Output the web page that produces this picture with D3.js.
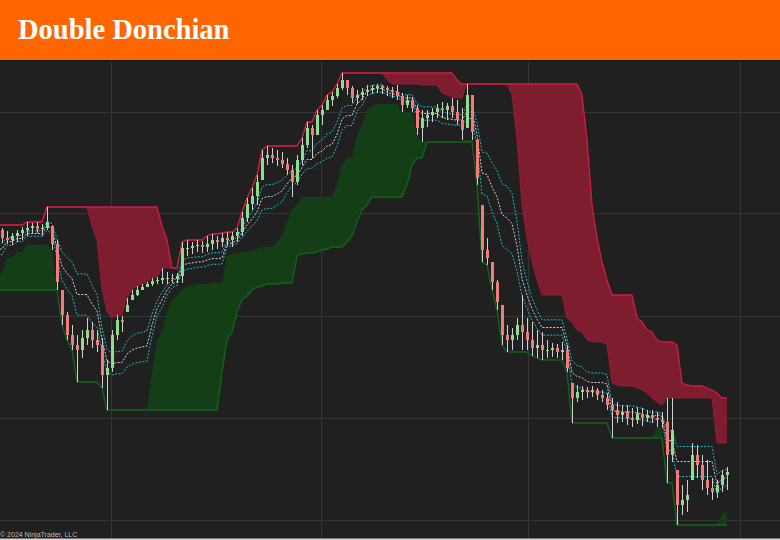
<!DOCTYPE html>
<html><head><meta charset="utf-8">
<script src="https://cdn.jsdelivr.net/npm/d3@7"></script>
<style>html,body{margin:0;padding:0;background:#202020;}svg{display:block}</style>
</head><body>
<svg id="c" width="780" height="540"></svg>
<script>
// ---- data (price units of the chart) ----
// warm-up bars before the visible window (they seed the channels)
const warmHigh  = [272,275,278,274,270,268,270,272,268,266,270,268,264,262,272,278,285,294,296,302,304,308,312,315];
const warmLow   = [255,258,260,256,252,251,253,255,251,251,254,252,251,250,256,268,267,284,282,290,288,296,298,300];
const warmClose = [265,270,272,262,258,255,260,264,256,260,265,256,257,258,268,275,278,290,292,298,300,304,308,310];
// visible bars
const highs = [312,309,307,310,313,318,317,318,316,333,
  314,300,250,228,215,205,210,222,218,210,
  202,180,210,225,224,242,250,254,256,258,
  262,263,272,268,266,267,298,300,298,300,
  299,304,306,304,307,308,308,312,328,342,
  352,365,390,394,392,390,388,382,375,385,
  402,418,415,430,435,445,448,456,467,460,
  454,450,452,455,455,456,455,454,453,455,
  447,445,443,435,430,430,432,436,438,437,
  442,440,432,456,445,400,335,302,278,260,
  235,215,212,222,245,222,218,210,208,200,
  197,196,198,195,157,155,154,153,154,152,
  150,147,142,138,135,135,132,133,132,130,
  130,128,128,142,142,70,55,60,97,95,
  85,80,62,60,70,73];
const lows = [297,296,295,298,300,304,306,307,304,310,
  290,250,215,200,190,158,182,195,192,188,
  152,130,168,200,208,228,240,244,250,253,
  254,256,256,256,257,257,257,284,286,288,
  287,288,290,291,293,294,293,298,304,318,
  330,335,360,375,377,374,372,365,343,355,
  375,392,382,405,415,430,434,442,450,445,
  437,436,440,444,446,447,446,444,442,440,
  428,432,428,405,398,413,418,422,422,420,
  422,415,400,412,400,355,278,275,250,230,
  195,188,190,200,190,190,184,182,180,182,
  183,182,180,168,117,138,140,142,143,140,
  138,130,102,117,118,115,113,116,114,118,
  117,113,112,57,78,15,25,28,60,62,
  50,45,40,42,48,50];
const closes = [302,300,304,307,310,312,314,311,312,318,
  296,258,225,205,195,190,202,210,200,195,
  165,172,205,220,218,235,245,250,253,256,
  259,260,262,262,261,264,292,292,294,295,
  293,296,300,298,302,300,304,308,322,336,
  344,358,382,385,382,380,376,370,358,380,
  395,412,405,425,430,440,444,452,460,452,
  442,445,448,450,452,454,452,450,448,444,
  435,440,432,412,422,425,428,432,430,434,
  428,420,410,445,408,362,290,282,258,238,
  205,200,205,215,208,200,192,195,190,190,
  192,188,190,172,142,148,150,148,150,145,
  142,135,130,125,128,122,120,126,122,125,
  122,120,118,85,110,35,40,45,85,75,
  60,52,48,55,65,68];
const priceGrid = [20, 121.7, 224, 326.7, 428.3];
const timeGrid = [21.74, 63.74, 105.26, 147.6];
const longPeriod = 23, shortPeriod = 9;
const levels = [0.618, 0.5, 0.382];

// ---- build bars ----
const H_ = warmHigh.concat(highs), L_ = warmLow.concat(lows), C_ = warmClose.concat(closes);
const n0 = warmHigh.length;
const bars = H_.map((h, k) => {
  const l = L_[k], c = C_[k];
  let o = k > 0 ? C_[k-1] : c;
  o = Math.max(l, Math.min(h, o));
  const lw = Math.max(0, k - longPeriod + 1), sw = Math.max(0, k - shortPeriod + 1);
  return {
    i: k - n0, h, l, c, o,
    hhL: d3.max(H_.slice(lw, k+1)), llL: d3.min(L_.slice(lw, k+1)),
    hhS: d3.max(H_.slice(sw, k+1)), llS: d3.min(L_.slice(sw, k+1))
  };
});

const W = 780, H = 540;
const svg = d3.select('#c');
svg.append('rect').attr('width', W).attr('height', H).attr('fill', '#202020');

const x = d3.scaleLinear().domain([0, 145]).range([2, 727]);
const y = d3.scaleLinear().domain([0, 480]).range([540, 60]);

svg.append('clipPath').attr('id', 'plot').append('rect')
  .attr('x', 0).attr('y', 61).attr('width', W).attr('height', 477);
const g = svg.append('g').attr('clip-path', 'url(#plot)');

// grid
g.selectAll('line.hg').data(priceGrid).join('line')
  .attr('x1', 0).attr('x2', W).attr('y1', d => Math.round(y(d)) + 0.5).attr('y2', d => Math.round(y(d)) + 0.5)
  .attr('stroke', '#353535').attr('stroke-width', 1);
g.selectAll('line.vg').data(timeGrid).join('line')
  .attr('y1', 60).attr('y2', 540).attr('x1', d => Math.round(x(d)) + 0.5).attr('x2', d => Math.round(x(d)) + 0.5)
  .attr('stroke', '#353535').attr('stroke-width', 1);

// clouds
const redArea = d3.area().x(d => x(d.i)).y0(d => y(d.hhS)).y1(d => y(d.hhL));
const greenArea = d3.area().x(d => x(d.i)).y0(d => y(d.llL)).y1(d => y(d.llS));
g.append('path').datum(bars).attr('d', redArea).attr('fill', '#7e1c30');
g.append('path').datum(bars).attr('d', greenArea).attr('fill', '#143f16');

const line = acc => d3.line().x(d => x(d.i)).y(d => y(acc(d)));
g.append('path').datum(bars).attr('d', line(d => d.hhS)).attr('fill', 'none')
  .attr('stroke', '#b01a38').attr('stroke-opacity', 0.7).attr('stroke-width', 1);
g.append('path').datum(bars).attr('d', line(d => d.hhL)).attr('fill', 'none')
  .attr('stroke', '#d41c42').attr('stroke-width', 1.3);
g.append('path').datum(bars).attr('d', line(d => d.llL)).attr('fill', 'none')
  .attr('stroke', '#11661a').attr('stroke-width', 1.3);

// inner dotted levels of the short channel
const lvlColors = ['#1cb7c4', '#cfcfcf', '#1cb7c4'];
levels.forEach((f, j) => {
  g.append('path').datum(bars).attr('d', line(d => d.llS + f * (d.hhS - d.llS)))
    .attr('fill', 'none').attr('stroke', lvlColors[j]).attr('stroke-width', 1)
    .attr('stroke-dasharray', '2,1.5');
});

// candles
const cg = g.append('g');
cg.selectAll('line').data(bars).join('line')
  .attr('x1', d => Math.round(x(d.i)) + 0.5).attr('x2', d => Math.round(x(d.i)) + 0.5)
  .attr('y1', d => y(d.h)).attr('y2', d => y(d.l))
  .attr('stroke', '#d0d0d0').attr('stroke-width', 1);
cg.selectAll('rect').data(bars).join('rect')
  .attr('x', d => Math.round(x(d.i)) - 1).attr('width', 3)
  .attr('y', d => y(Math.max(d.o, d.c)))
  .attr('height', d => Math.max(1, Math.abs(y(d.o) - y(d.c))))
  .attr('fill', d => d.c >= d.o ? '#8fdc8f' : '#f27c7c');

// title bar
svg.append('rect').attr('width', W).attr('height', 60).attr('fill', '#ff6600');
svg.append('rect').attr('y', 60).attr('width', W).attr('height', 1.5).attr('fill', '#101b28');
svg.append('text').attr('x', 18).attr('y', 39).text('Double Donchian')
  .attr('fill', '#ffffff').attr('font-family', '"Liberation Serif","Times New Roman",serif')
  .attr('font-weight', 'bold').attr('font-size', 28.5);

// footer
svg.append('text').attr('x', 0).attr('y', 537).text('© 2024 NinjaTrader, LLC')
  .attr('fill', '#bdbdbd').attr('font-family', '"Liberation Sans",Arial,sans-serif').attr('font-size', 7);
svg.append('rect').attr('y', 538.5).attr('width', W).attr('height', 1.5).attr('fill', '#d6d6d6');
</script>
</body></html>
